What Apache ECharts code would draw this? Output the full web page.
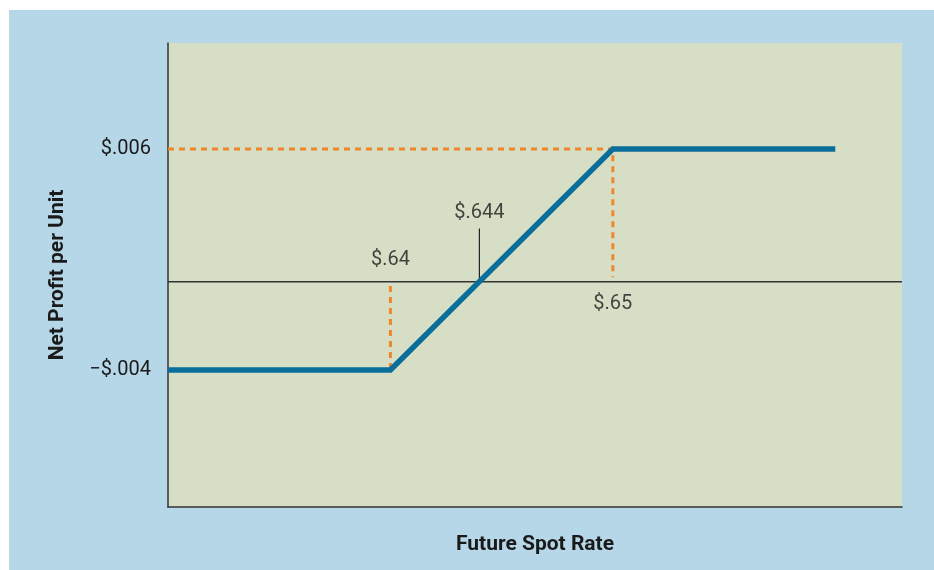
<!DOCTYPE html>
<html>
<head>
<meta charset="utf-8">
<script src="https://cdn.jsdelivr.net/npm/echarts@6/dist/echarts.min.js"></script>
<style>
html,body{margin:0;padding:0;background:#ffffff;}
#chart{width:934px;height:570px;}
</style>
</head>
<body>
<div id="chart"></div>
<script>
// ---- data ----
const spotRates   = [0.63, 0.64, 0.65, 0.66];        // future spot rate
const netProfit   = [-0.004, -0.004, 0.006, 0.006];  // net profit per unit
const breakEven   = 0.644;
const xMarkVals   = [0.64, 0.644, 0.65];
const xMarkLabels = ['$.64', '$.644', '$.65'];
const yTickVals   = [0.006, -0.004];
const yTickLabels = ['$.006', '\u2212$.004'];
const xTitle = 'Future Spot Rate';
const yTitle = 'Net Profit per Unit';

const FONT = "Roboto,'DejaVu Sans Condensed',sans-serif";
const ORANGE = '#f0862a';
const BLUE = '#0a6e9b';

const chart = echarts.init(document.getElementById('chart'), null, {renderer: 'canvas'});

const lineData = spotRates.map((x, i) => [x, netProfit[i]]);

const option = {
  backgroundColor: '#ffffff',
  animation: false,
  graphic: [{
    type: 'rect', left: 9, top: 10, z: -10,
    shape: {width: 925, height: 560},
    style: {fill: '#b6d7e7'}
  }],
  grid: {
    left: 168, top: 43, width: 734, height: 464,
    show: true, backgroundColor: '#d6dfc6', borderWidth: 0
  },
  xAxis: {
    type: 'value', min: 0.63, max: 0.663,
    axisLine: {show: true, onZero: false, lineStyle: {color: '#333', width: 1.5}},
    axisTick: {show: false}, axisLabel: {show: false}, splitLine: {show: false},
    name: xTitle, nameLocation: 'middle', nameGap: 27,
    nameTextStyle: {fontFamily: FONT, fontWeight: 'bold', fontSize: 21, color: '#1a1a1a'}
  },
  yAxis: {
    type: 'value', min: -0.0102, max: 0.0108,
    axisLine: {show: true, onZero: false, lineStyle: {color: '#333', width: 1.5}},
    axisTick: {show: false}, splitLine: {show: false},
    axisLabel: {
      show: true, customValues: yTickVals, margin: 17,
      fontFamily: FONT, fontSize: 20, color: '#1a1a1a',
      formatter: v => {
        const i = yTickVals.findIndex(t => Math.abs(t - v) < 1e-9);
        return i >= 0 ? yTickLabels[i] : '';
      }
    },
    name: yTitle, nameLocation: 'middle', nameGap: 100,
    nameTextStyle: {fontFamily: FONT, fontWeight: 'bold', fontSize: 21, color: '#1a1a1a'}
  },
  series: [
    { // zero line
      type: 'line', data: [[0.63, 0], [0.663, 0]], symbol: 'none', z: 2,
      lineStyle: {color: '#333', width: 1.5}
    },
    { // dashed guides
      type: 'line', data: [[0.63, yTickVals[0]], [xMarkVals[2], yTickVals[0]], [xMarkVals[2], 0.0002]],
      symbol: 'none', z: 3,
      lineStyle: {color: ORANGE, width: 3, type: [6, 5]}
    },
    {
      type: 'line', data: [[xMarkVals[0], -0.0002], [xMarkVals[0], yTickVals[1]]],
      symbol: 'none', z: 3,
      lineStyle: {color: ORANGE, width: 3, type: [6, 5]}
    },
    { // pointer to break-even
      type: 'line', data: [[breakEven, 0], [breakEven, 0.0024]],
      symbol: 'none', z: 3,
      lineStyle: {color: '#222', width: 1.2}
    },
    { // payoff line
      type: 'line', data: lineData, symbol: 'none', z: 5,
      lineStyle: {color: BLUE, width: 5.5, cap: 'butt', join: 'miter'}
    },
    { // text labels
      type: 'scatter', symbolSize: 0, z: 6, silent: true,
      data: [
        {value: [xMarkVals[0], 0.0010], name: xMarkLabels[0]},
        {value: [xMarkVals[1], 0.0031], name: xMarkLabels[1]},
        {value: [xMarkVals[2], -0.0010], name: xMarkLabels[2]}
      ],
      label: {
        show: true, position: 'inside', formatter: p => p.name,
        fontFamily: FONT, fontSize: 20, color: '#1a1a1a'
      }
    }
  ]
};
chart.setOption(option);
</script>
</body>
</html>
